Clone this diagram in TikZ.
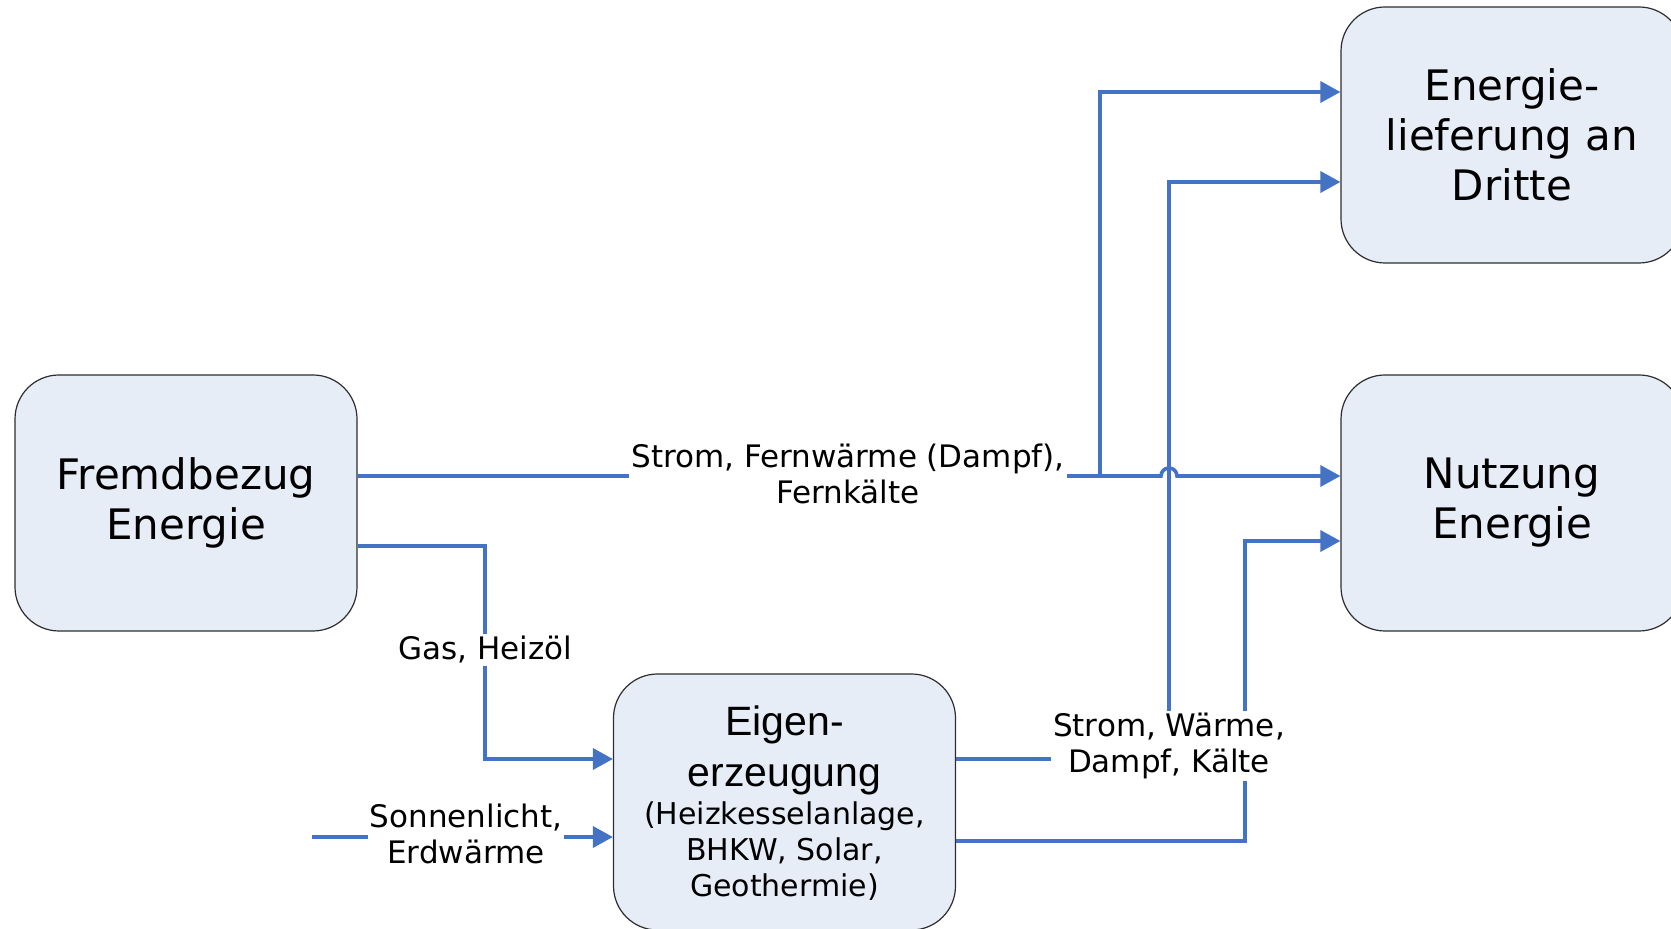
\documentclass[tikz,border=0pt]{standalone}
\usepackage{fontspec}
\setmainfont{DejaVu Sans}
\newfontfamily\arialfont{Liberation Sans}
\usetikzlibrary{arrows.meta}

\definecolor{flowblue}{RGB}{68,114,196}
\definecolor{boxfill}{RGB}{231,237,247}
\definecolor{boxline}{RGB}{45,45,45}

\tikzset{
  energybox/.style={draw=boxline, line width=0.6pt, fill=boxfill, rounded corners=22pt,
    minimum width=171pt, minimum height=128pt, align=center, inner sep=0pt,
    font=\fontsize{21}{25}\selectfont},
  flowline/.style={draw=flowblue, line width=1.8pt},
  flowarrow/.style={flowline, -{Triangle[length=10pt,width=10.5pt]}},
  flowlabel/.style={fill=white, inner sep=1pt, align=center, font=\fontsize{15.5}{18}\selectfont},
}

\begin{document}
\begin{tikzpicture}[x=0.5pt,y=0.5pt,yscale=-1]
\useasboundingbox (0,0) rectangle (1671,929);

%Boxes
\node[energybox] (fremd) at (186,503) {Fremdbezug\\Energie};
\node[energybox] (dritte) at (1512,135) {Energie-\\lieferung an\\Dritte};
\node[energybox] (nutzung) at (1512,503) {Nutzung\\Energie};
\node[energybox] (eigen) at (784.5,802) {};
% Text Node
\node[align=center, font=\arialfont\fontsize{20.5}{25.5}\selectfont] (eigentitle) at (784.5,750) {Eigen-\\erzeugung};
% Text Node
\node[align=center, font=\fontsize{15}{18}\selectfont] (eigenlist) at (784.5,851) {(Heizkesselanlage,\\BHKW, Solar,\\Geothermie)};

%Entry points (yshift runs downwards here)
\coordinate (hop) at (1169,476);
\coordinate (split) at (1100,476);
\coordinate (d1) at ([yshift=-21.5pt]dritte.west);
\coordinate (d2) at ([yshift=23.5pt]dritte.west);
\coordinate (n1) at (nutzung.west |- hop);
\coordinate (n2) at ([yshift=19pt]nutzung.west);
\coordinate (e1) at ([yshift=-21.5pt]eigen.west);
\coordinate (e2) at ([yshift=17.5pt]eigen.west);
\coordinate (o1) at ([yshift=-21.5pt]eigen.east);
\coordinate (o2) at ([yshift=19.5pt]eigen.east);
\coordinate (sun) at (312,837);

%Straight Lines
\draw[flowarrow] (fremd.east |- hop) -- ([xshift=-4pt]hop) arc[start angle=180, end angle=360, radius=4pt] -- (n1);
\draw[flowarrow] (split) |- (d1);
\draw[flowarrow] ([yshift=21.5pt]fremd.east) -| (485,650) |- (e1);
\draw[flowarrow] (sun) -- (e2);
\draw[flowarrow] (o1) -| (d2 -| hop) -- (d2);
\draw[flowarrow] (o2) -| (n2 -| 1245,0) -- (n2);

% Text Node
\node[flowlabel] (fernlabel) at (848,474) {Strom, Fernwärme (Dampf),\\Fernkälte};
% Text Node
\node[flowlabel] (gaslabel) at (485,650) {Gas, Heizöl};
% Text Node
\node[flowlabel] (sunlabel) at (466,834) {Sonnenlicht,\\Erdwärme};
% Text Node
\node[flowlabel] (eigenlabel) at (1169,746) {Strom, Wärme,\\Dampf, Kälte};

\end{tikzpicture}
\end{document}
